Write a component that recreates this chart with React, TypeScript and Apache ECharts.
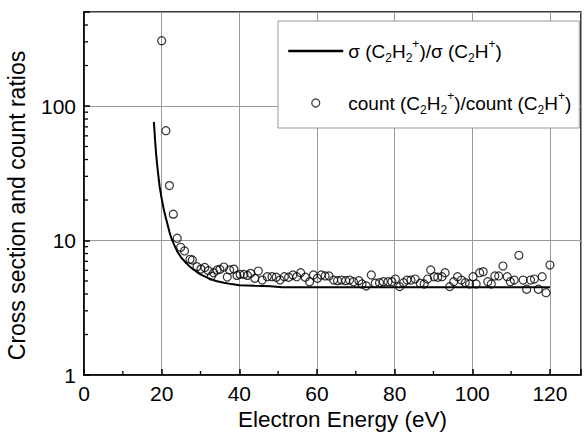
import React, { useEffect, useRef } from "react";
import * as echarts from "echarts";

// Cross-section ratio (solid line)
const sigmaE = [18.0, 18.3, 18.6, 19.0, 19.5, 20.0, 20.5, 21.0, 21.5, 22.0, 22.5, 23, 24, 25, 26, 27, 28, 29, 30, 32, 34, 36, 38, 40, 44, 48, 51, 60, 80, 100, 120];
const sigmaRatio = [76, 56, 43, 33, 25, 20.5, 17.3, 15, 13.2, 11.6, 10.4, 9.6, 8.3, 7.5, 6.95, 6.5, 6.15, 5.85, 5.6, 5.25, 5.0, 4.85, 4.74, 4.65, 4.6, 4.57, 4.5, 4.5, 4.5, 4.5, 4.5];

// Count ratio (open circles)
const countE = [20, 21.1, 22, 23, 24, 24.9, 25.9, 27.3, 27.9, 29.1, 30.1, 31.1, 32.0, 32.8, 33.4, 34.3, 35.0, 36.0, 36.9, 37.5, 38.6, 39.4, 40.2, 41.2, 42.1, 42.9, 44.0, 44.9, 45.9, 47.2, 48.4, 49.5, 50.5, 51.6, 52.7, 53.8, 54.8, 55.8, 57.0, 58.1, 59.1, 60.1, 61.1, 62.1, 63.1, 64.3, 65.3, 66.3, 67.4, 68.4, 69.4, 70.8, 71.6, 72.7, 74.0, 75.0, 76.1, 77.1, 78.3, 79.3, 80.2, 81.3, 82.3, 83.2, 84.2, 85.3, 86.6, 87.6, 88.5, 89.3, 90.2, 91.1, 92.2, 93.0, 94.2, 95.2, 96.2, 97.2, 98.2, 99.3, 100.2, 101.0, 101.9, 102.8, 104.0, 104.9, 105.8, 106.8, 107.9, 109.0, 109.8, 110.8, 112.0, 113.1, 114.0, 115.0, 116.0, 117.0, 118.0, 119.0, 120.0];
const countRatio = [306, 65.5, 25.6, 15.7, 10.4, 8.9, 8.36, 7.25, 7.16, 6.39, 6.13, 6.3, 5.97, 5.44, 5.76, 6.04, 6.1, 6.35, 5.35, 6.04, 6.13, 5.5, 5.6, 5.6, 5.5, 5.7, 5.23, 5.93, 5.08, 5.38, 5.38, 5.33, 5.08, 5.38, 5.33, 5.54, 5.38, 5.76, 5.33, 4.94, 5.54, 5.24, 5.54, 5.45, 5.45, 5.08, 5.03, 5.08, 5.03, 5.08, 4.94, 5.03, 4.75, 4.59, 5.54, 4.81, 4.86, 4.94, 4.94, 4.94, 5.17, 4.54, 4.86, 5.08, 5.08, 5.17, 4.81, 4.75, 5.17, 6.04, 5.38, 5.33, 5.38, 5.76, 4.54, 4.94, 5.38, 5.08, 4.86, 4.75, 5.38, 4.75, 5.76, 5.86, 4.94, 4.75, 5.45, 5.45, 6.46, 5.38, 4.94, 5.08, 7.76, 5.08, 4.34, 5.08, 5.17, 4.34, 5.38, 4.09, 6.57];

// Axis ticks
const xMajorTicks = [0, 20, 40, 60, 80, 100, 120];
const xMinorTicks = [10, 30, 50, 70, 90, 110];
const yMajorTicks = [1, 10, 100];
const yMinorTicks = [2, 3, 4, 5, 6, 7, 8, 9, 20, 30, 40, 50, 60, 70, 80, 90, 200, 300, 400];

const FONT = "Liberation Sans, Arial, sans-serif";
const SIGMA_NAME = "σ (C2H2+)/σ (C2H+)";
const COUNT_NAME = "count (C2H2+)/count (C2H+)";

export default function App() {
  const ref = useRef<HTMLDivElement>(null);
  useEffect(() => {
    if (!ref.current) return;
    const chart = echarts.init(ref.current, null, { renderer: "svg" });
    const minorData: number[][] = [
      ...xMinorTicks.map((x) => [x, 1, 0]),
      ...yMinorTicks.map((y) => [0, y, 1]),
    ];
    chart.setOption({
      animation: false,
      backgroundColor: "#fff",
      textStyle: { fontFamily: FONT },
      grid: {
        left: 84, right: 3, top: 12, bottom: 57,
        show: true, borderColor: "#000", borderWidth: 1.5,
        containLabel: false, outerBoundsMode: "none",
      },
      legend: {
        orient: "vertical",
        left: 278, top: 21,
        padding: [17, 8, 12, 9],
        itemGap: 26,
        itemWidth: 55, itemHeight: 8,
        backgroundColor: "#fff",
        borderColor: "#999", borderWidth: 1,
        data: [
          {
            name: SIGMA_NAME,
            itemStyle: { color: "transparent", borderColor: "transparent", borderWidth: 0, opacity: 0 },
            lineStyle: { width: 2.5, color: "#000" },
          },
          { name: COUNT_NAME, icon: "circle" },
        ],
        itemStyle: { borderWidth: 1.2 },
        lineStyle: { width: 2.5 },
        formatter: (name: string) =>
          name === SIGMA_NAME
            ? "{n|σ (C}{sb|2}{n|H}{sb|2}{sp|+}{n|)/σ (C}{sb|2}{n|H}{sp|+}{n|)}"
            : "{n|count (C}{sb|2}{n|H}{sb|2}{sp|+}{n|)/count (C}{sb|2}{n|H}{sp|+}{n|)}",
        textStyle: {
          fontFamily: FONT,
          rich: {
            n: { fontSize: 19, lineHeight: 26, color: "#000", fontFamily: FONT },
            sb: { fontSize: 12, lineHeight: 12, verticalAlign: "bottom", color: "#000", fontFamily: FONT },
            sp: { fontSize: 12, lineHeight: 12, verticalAlign: "top", color: "#000", fontFamily: FONT },
          },
        },
      },
      xAxis: {
        type: "value",
        min: 0, max: 128, interval: 20,
        name: "Electron Energy (eV)",
        nameLocation: "middle",
        nameGap: 33,
        nameMoveOverlap: false,
        nameTextStyle: { fontSize: 22.5, color: "#000", fontFamily: FONT, padding: [0, 0, 0, 20] },
        axisLine: { show: true, lineStyle: { color: "#000", width: 1.5 } },
        axisTick: { show: true, inside: true, length: 6, lineStyle: { color: "#000", width: 1.5 } },
        axisLabel: {
          fontSize: 21, color: "#000", margin: 8, fontFamily: FONT,
          formatter: (v: number) => (xMajorTicks.includes(v) ? String(v) : ""),
        },
        splitLine: { show: true, lineStyle: { color: "#999", width: 1 } },
      },
      yAxis: {
        type: "log", logBase: 10,
        min: 1, max: 500,
        name: "Cross section and count ratios",
        nameLocation: "middle",
        nameGap: 56,
        nameMoveOverlap: false,
        nameTextStyle: { fontSize: 23, color: "#000", fontFamily: FONT, padding: [0, 24, 0, 0] },
        axisLine: { show: true, lineStyle: { color: "#000", width: 1.5 } },
        axisTick: { show: true, inside: true, length: 6, lineStyle: { color: "#000", width: 1.5 } },
        axisLabel: {
          fontSize: 21, color: "#000", margin: 8, fontFamily: FONT,
          formatter: (v: number) => {
            const r = Math.round(v);
            return yMajorTicks.includes(r) && Math.abs(v - r) < 1e-6 * r ? String(r) : "";
          },
        },
        splitLine: { show: true, lineStyle: { color: "#999", width: 1 } },
      },
      series: [
        {
          name: SIGMA_NAME,
          type: "line",
          data: sigmaE.map((e, i) => [e, sigmaRatio[i]]),
          symbol: "none",
          lineStyle: { color: "#000", width: 2 },
          itemStyle: { color: "#000" },
          z: 3,
        },
        {
          name: COUNT_NAME,
          type: "scatter",
          data: countE.map((e, i) => [e, countRatio[i]]),
          symbol: "circle",
          symbolSize: 8,
          itemStyle: { color: "transparent", borderColor: "#000", borderWidth: 1.2 },
          z: 4,
        },
        {
          name: "minorTicks",
          type: "custom",
          silent: true,
          clip: false,
          data: minorData,
          renderItem: (params: any, api: any) => {
            const p = api.coord([api.value(0), api.value(1)]);
            const dir = api.value(2);
            const shape = dir === 0
              ? { x1: p[0], y1: p[1], x2: p[0], y2: p[1] - 4 }
              : { x1: p[0], y1: p[1], x2: p[0] + 4, y2: p[1] };
            return { type: "line", shape, style: { stroke: "#000", lineWidth: 1.3 } };
          },
          z: 5,
        },
      ],
    });
    return () => chart.dispose();
  }, []);
  return <div ref={ref} style={{ width: 584, height: 432, position: "absolute", left: 0, top: 0 }} />;
}
